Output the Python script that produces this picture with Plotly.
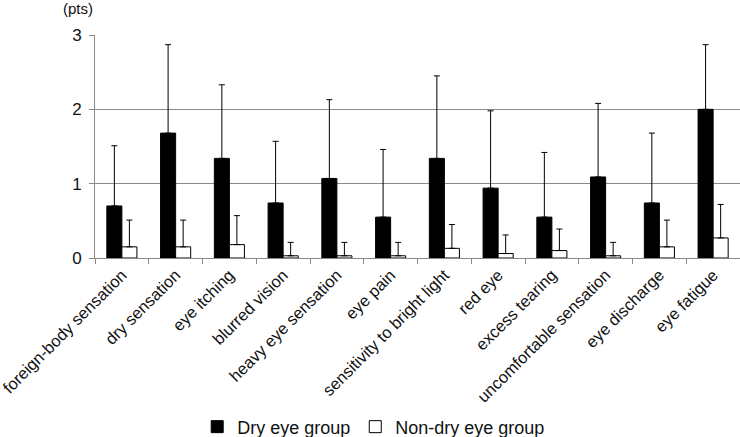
import plotly.graph_objects as go

categories = ["foreign-body sensation", "dry sensation", "eye itching", "blurred vision",
              "heavy eye sensation", "eye pain", "sensitivity to bright light", "red eye",
              "excess tearing", "uncomfortable sensation", "eye discharge", "eye fatigue"]
dry_mean = [0.70, 1.68, 1.34, 0.74, 1.07, 0.55, 1.34, 0.94, 0.55, 1.09, 0.74, 2.00]
dry_sd = [0.81, 1.19, 0.99, 0.83, 1.06, 0.91, 1.11, 1.04, 0.87, 0.99, 0.94, 0.87]
nondry_mean = [0.15, 0.15, 0.18, 0.03, 0.03, 0.03, 0.13, 0.06, 0.10, 0.03, 0.15, 0.27]
nondry_sd = [0.36, 0.36, 0.39, 0.18, 0.18, 0.18, 0.32, 0.25, 0.29, 0.18, 0.36, 0.45]
y_ticks = [0, 1, 2, 3]

font = "Liberation Sans, Arial, sans-serif"
fig = go.Figure()
fig.add_trace(go.Bar(
    x=categories, y=dry_mean, name="Dry eye group",
    marker=dict(color="#000000", line=dict(color="#000000", width=1)),
    error_y=dict(type="data", array=dry_sd, arrayminus=[0] * len(dry_sd), symmetric=False,
                 color="#000000", thickness=1, width=3),
))
fig.add_trace(go.Bar(
    x=categories, y=nondry_mean, name="Non-dry eye group",
    marker=dict(color="#ffffff", line=dict(color="#000000", width=1)),
    error_y=dict(type="data", array=nondry_sd, arrayminus=[0] * len(nondry_sd), symmetric=False,
                 color="#000000", thickness=1, width=3),
))
fig.update_layout(
    width=740, height=437,
    margin=dict(l=95, r=0, t=35, b=179),
    paper_bgcolor="white", plot_bgcolor="white",
    barmode="group", bargap=0.44, bargroupgap=0,
    font=dict(family=font, size=16, color="#111111"),
    showlegend=True,
    legend=dict(orientation="h", x=0.505, xanchor="center", xref="container",
                y=0.023, yanchor="middle", yref="container",
                font=dict(size=18), itemwidth=30, traceorder="normal"),
    xaxis=dict(tickangle=-45, ticks="outside", tickson="boundaries", ticklen=5,
               tickcolor="#888888", showline=True, linecolor="#888888", linewidth=1,
               showgrid=False, tickfont=dict(size=16.5), automargin=False),
    yaxis=dict(range=[0, 3], tickvals=y_ticks, ticks="outside", ticklen=5,
               tickcolor="#888888", showline=True, linecolor="#888888", linewidth=1,
               showgrid=True, gridcolor="#8a8a8a", gridwidth=1, zeroline=False,
               tickfont=dict(size=17), automargin=False, ticklabelstandoff=4),
    annotations=[dict(text="(pts)", xref="paper", yref="paper", x=-0.027, y=1.12,
                      xanchor="center", yanchor="middle", showarrow=False,
                      font=dict(size=15))],
)
fig.write_html("out.html", config={"displayModeBar": False},
               post_script="document.body.style.margin='0';document.body.style.padding='0';")
